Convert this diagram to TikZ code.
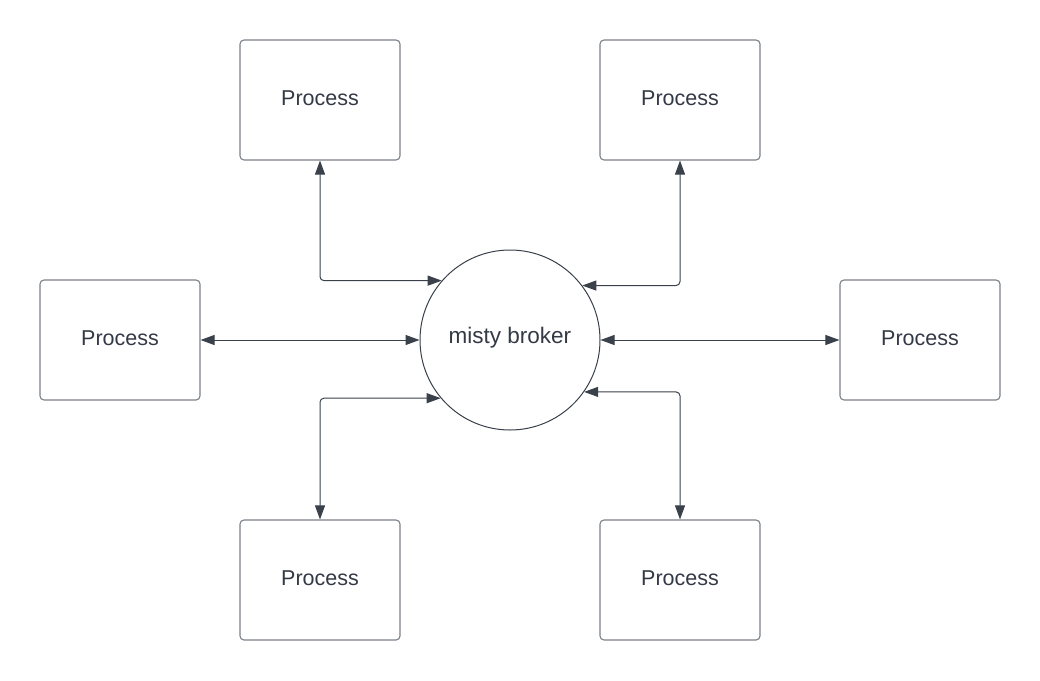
\documentclass[tikz,border=0pt]{standalone}
\usepackage{fontspec}
\setmainfont{Liberation Sans}
\usetikzlibrary{arrows.meta}
\definecolor{inkline}{HTML}{3A414A}
\definecolor{boxline}{HTML}{7C8087}
\definecolor{inktext}{HTML}{333A45}
\begin{document}
\begin{tikzpicture}[x=10pt, y=-10pt,
    proc/.style={draw=boxline, line width=1.1pt, rounded corners=4pt, minimum width=160pt, minimum height=120pt,
        text=inktext, font=\fontsize{21.5}{26}\selectfont, text height=14pt, text depth=4pt},
    broker/.style={draw=inkline, line width=1pt, circle, minimum size=180pt, inner sep=0pt,
        text=inktext, font=\fontsize{22.5}{27}\selectfont, text height=10pt, text depth=4pt},
    link/.style={draw=inkline, line width=1pt, rounded corners=4pt,
        {Triangle[length=14pt, width=10pt]}-{Triangle[length=14pt, width=10pt]}}]
    \fill[white] (0, 0) rectangle (104, 68);
    \useasboundingbox (0, 0) rectangle (104, 68);

    \node[broker] (misty) at (51, 34) {misty broker};
    \node[proc] (proctl) at (32, 10) {Process};
    \node[proc] (proctr) at (68, 10) {Process};
    \node[proc] (procl) at (12, 34) {Process};
    \node[proc] (procr) at (92, 34) {Process};
    \node[proc] (procbl) at (32, 58) {Process};
    \node[proc] (procbr) at (68, 58) {Process};

    \draw[link] (proctl.south) |- (misty.139);
    \draw[link] (proctr.south) |- (misty.37);
    \draw[link] (procl.east) -- (misty.west);
    \draw[link] (misty.east) -- (procr.west);
    \draw[link] (procbl.north) |- (misty.220);
    \draw[link] (procbr.north) |- (misty.325);
\end{tikzpicture}
\end{document}
